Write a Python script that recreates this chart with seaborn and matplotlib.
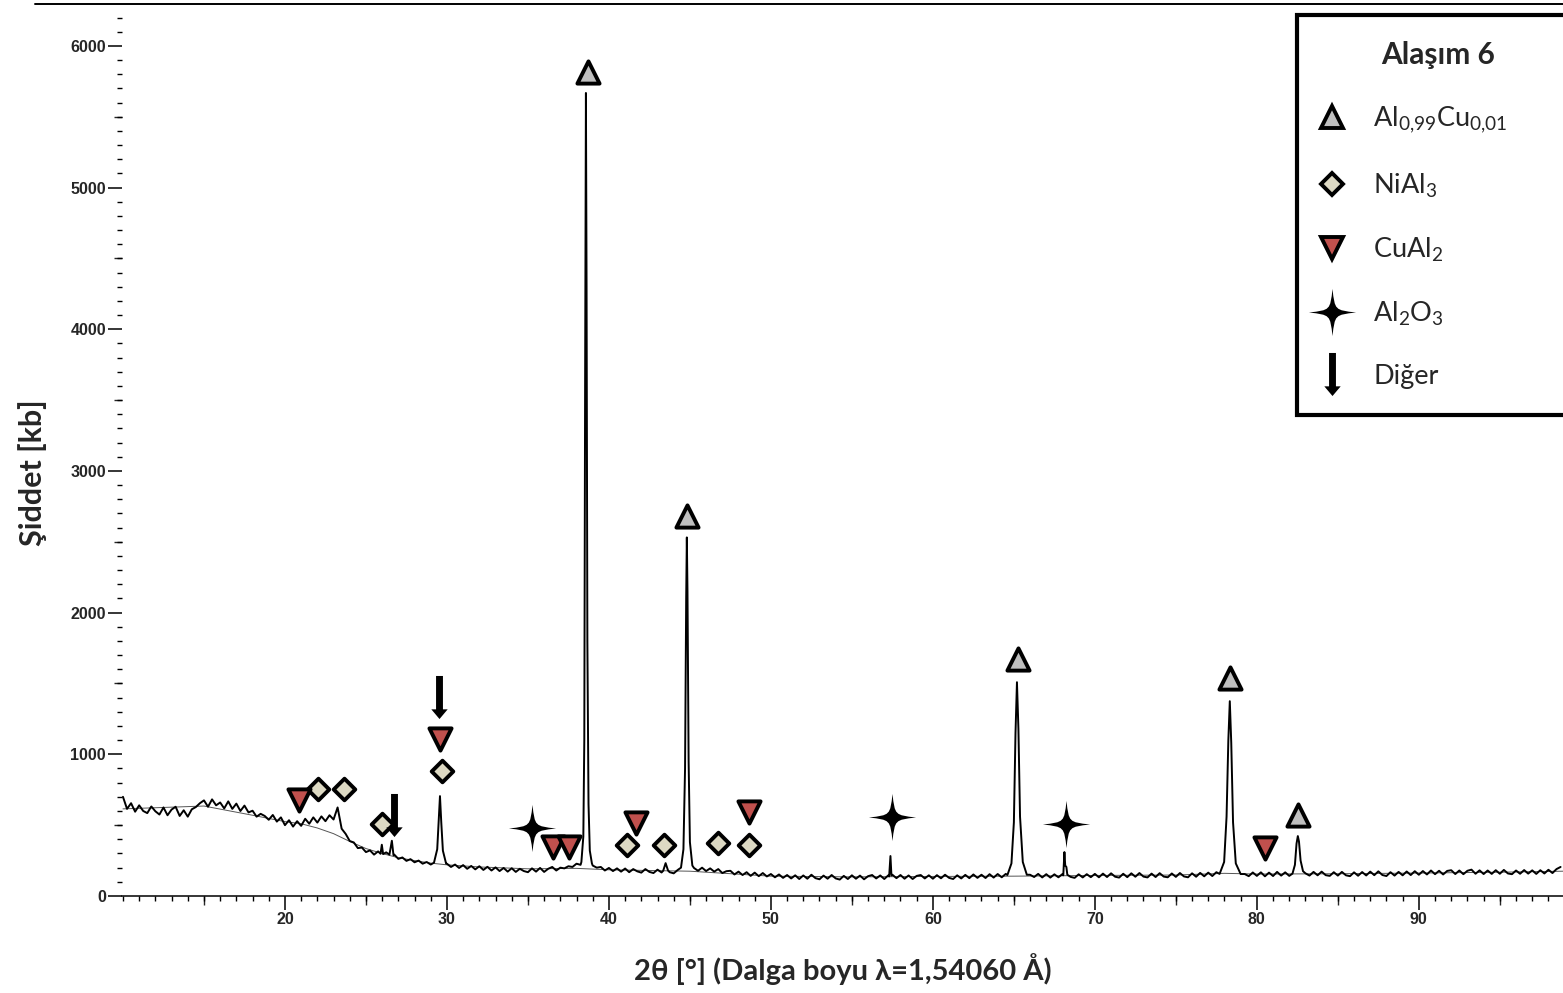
import numpy as np
import seaborn as sns
import matplotlib.pyplot as plt
from matplotlib.path import Path
from matplotlib.lines import Line2D
from matplotlib.ticker import MultipleLocator

# ---------------- data ----------------
# background trace, 0.25 deg steps from 10.00 to 98.75
bg_10 = [700, 615, 655, 595, 640, 600, 585, 632, 598, 575,
         625, 570, 610, 630, 565, 605, 560, 612, 628, 655,
         675, 630, 682, 640, 660, 618, 668, 615, 652, 600,
         638, 590, 602, 560, 580, 565, 538, 572, 525, 555]
bg_20 = [500, 535, 490, 528, 495, 545, 510, 555, 518, 562,
         528, 570, 540, 625, 475, 438, 388, 378, 338, 342,
         310, 322, 292, 315, 288, 308, 282, 292, 262, 272,
         248, 260, 238, 250, 228, 240, 222, 245, 250, 225]
bg_30 = [228, 205, 222, 198, 218, 192, 212, 188, 210, 184,
         206, 180, 202, 176, 198, 172, 196, 170, 192, 176,
         168, 195, 172, 198, 170, 192, 205, 180, 200, 195,
         210, 205, 228, 220, 300, 400, 215, 200, 205, 180]
bg_40 = [198, 176, 195, 172, 194, 168, 190, 174, 165, 190,
         170, 162, 186, 166, 200, 168, 160, 184, 190, 200,
         190, 198, 178, 200, 176, 195, 172, 190, 162, 175,
         178, 152, 172, 148, 168, 142, 165, 140, 162, 138]
bg_50 = [155, 132, 152, 128, 148, 124, 146, 120, 145, 122,
         150, 126, 118, 144, 122, 148, 124, 116, 142, 120,
         146, 122, 144, 118, 140, 148, 124, 145, 120, 146,
         150, 126, 148, 122, 145, 120, 142, 148, 124, 146]
bg_60 = [122, 147, 125, 150, 128, 120, 146, 124, 149, 126,
         152, 128, 150, 127, 154, 130, 155, 132, 156, 150,
         150, 150, 150, 150, 150, 134, 156, 131, 154, 130,
         153, 132, 155, 150, 135, 128, 153, 131, 154, 133]
bg_70 = [156, 132, 158, 134, 160, 136, 130, 157, 133, 160,
         136, 162, 137, 131, 158, 134, 161, 137, 132, 159,
         135, 162, 138, 132, 160, 136, 163, 139, 165, 141,
         168, 155, 155, 155, 155, 155, 155, 155, 140, 166]
bg_80 = [142, 167, 139, 165, 141, 170, 144, 167, 142, 155,
         155, 155, 155, 144, 170, 146, 172, 147, 142, 168,
         144, 170, 146, 140, 167, 143, 169, 145, 172, 147,
         174, 148, 141, 168, 144, 170, 146, 173, 148, 175]
bg_90 = [150, 176, 152, 180, 154, 178, 152, 177, 182, 155,
         180, 154, 178, 186, 157, 181, 155, 180, 156, 182,
         157, 184, 159, 154, 180, 157, 183, 158, 181, 156,
         182, 159, 185, 162, 190, 205]

# peaks (two-theta, intensity)
p26a_x = [25.9, 25.98, 26.06]
p26a_y = [298, 362, 296]
p26b_x = [26.45, 26.6, 26.7]
p26b_y = [292, 390, 288]
p29_x = [29.2, 29.4, 29.5, 29.57, 29.65, 29.75, 29.95]
p29_y = [235, 330, 550, 705, 520, 320, 228]
p38_x = [38.3, 38.42, 38.48, 38.53, 38.58, 38.62, 38.67, 38.74, 38.82, 38.95]
p38_y = [240, 420, 1100, 3600, 5668, 4300, 1800, 650, 320, 230]
p43_x = [43.35, 43.5, 43.65]
p43_y = [178, 232, 180]
p44_x = [44.45, 44.6, 44.7, 44.77, 44.81, 44.85, 44.92, 45.0, 45.15]
p44_y = [200, 330, 900, 2100, 2531, 2150, 950, 380, 215]
p57_x = [57.3, 57.38, 57.44]
p57_y = [138, 282, 145]
p65_x = [64.6, 64.85, 65.0, 65.1, 65.19, 65.28, 65.38, 65.55, 65.8]
p65_y = [148, 230, 520, 1150, 1509, 1180, 560, 240, 150]
p68_x = [68.05, 68.12, 68.17, 68.24, 68.3]
p68_y = [146, 310, 215, 205, 150]
p78_x = [77.7, 77.98, 78.13, 78.24, 78.33, 78.42, 78.53, 78.7, 79.0]
p78_y = [156, 240, 560, 1100, 1375, 1080, 520, 230, 155]
p82_x = [82.2, 82.35, 82.45, 82.53, 82.6, 82.7, 82.85, 83.0]
p82_y = [158, 220, 370, 423, 385, 250, 175, 160]

# fitted background (thin grey line)
base_x = [10, 15, 18, 20, 21, 22, 23, 24, 25, 26, 27, 28, 29, 30, 32, 35, 38, 40,
          45, 50, 55, 60, 65, 70, 75, 78, 80, 85, 90, 95, 98.9]
base_y = [615, 635, 570, 525, 510, 480, 440, 385, 335, 300, 270, 250, 232, 220,
          205, 192, 195, 185, 175, 140, 135, 138, 140, 145, 148, 160, 155, 157,
          162, 168, 175]

# phase markers
alcu_x = [38.7, 44.81, 65.25, 78.33, 82.56]
alcu_y = [5813, 2682, 1676, 1539, 572]
nial_x = [22.04, 23.64, 25.99, 29.69, 41.11, 43.40, 46.73, 48.64]
nial_y = [755, 755, 508, 882, 360, 360, 374, 360]
cual_x = [20.86, 29.57, 36.54, 37.53, 41.67, 48.64, 80.49]
cual_y = [677, 1108, 346, 346, 515, 593, 339]
alox_x = [35.25, 57.47, 68.21]
alox_y = [480, 558, 508]
other_x = [26.75, 29.52]
other_y = [572, 1408]

labels = [r"Al$_{\mathregular{0{,}99}}$Cu$_{\mathregular{0{,}01}}$",
          r"NiAl$_{\mathregular{3}}$",
          r"CuAl$_{\mathregular{2}}$",
          r"Al$_{\mathregular{2}}$O$_{\mathregular{3}}$",
          "Diğer"]

# ---------------- build trace ----------------
bg_x = np.arange(10, 99, 0.25)
bg_y = np.array(bg_10 + bg_20 + bg_30 + bg_40 + bg_50 + bg_60 + bg_70 + bg_80 + bg_90, dtype=float)

peaks = [(p26a_x, p26a_y), (p26b_x, p26b_y), (p29_x, p29_y), (p38_x, p38_y),
         (p43_x, p43_y), (p44_x, p44_y), (p57_x, p57_y), (p65_x, p65_y),
         (p68_x, p68_y), (p78_x, p78_y), (p82_x, p82_y)]

keep = np.ones(len(bg_x), dtype=bool)
for px, py in peaks:
    keep &= ~((bg_x >= min(px)) & (bg_x <= max(px)))

x_all = np.concatenate([bg_x[keep]] + [np.array(px) for px, py in peaks])
y_all = np.concatenate([bg_y[keep]] + [np.array(py, dtype=float) for px, py in peaks])
order = np.argsort(x_all)
x_all = x_all[order]
y_all = y_all[order]

# ---------------- custom markers ----------------
c = 0.1
star_path = Path(
    [(0, 1), (c, c), (c, c), (1, 0), (c, -c), (c, -c), (0, -1),
     (-c, -c), (-c, -c), (-1, 0), (-c, c), (-c, c), (0, 1), (0, 1)],
    [Path.MOVETO] + [Path.CURVE4] * 12 + [Path.CLOSEPOLY])

arrow_path = Path(
    [(-0.16, 1), (0.16, 1), (0.16, -0.55), (0.38, -0.55), (0, -1),
     (-0.38, -0.55), (-0.16, -0.55), (-0.16, 1)],
    [Path.MOVETO] + [Path.LINETO] * 6 + [Path.CLOSEPOLY])

GREY = '#bfbfbf'
BEIGE = '#ddd9c3'
RED = '#c0504d'

# ---------------- plot ----------------
sns.set_style("white")
plt.rcParams['font.family'] = ['Lato', 'DejaVu Sans']
plt.rcParams['mathtext.fontset'] = 'custom'
plt.rcParams['mathtext.rm'] = 'Lato'

fig = plt.figure(figsize=(15.63, 9.93), dpi=100)
ax = fig.add_axes([122 / 1563, 97 / 993, 1 - 122 / 1563, 892 / 993])

sns.lineplot(x=base_x, y=base_y, ax=ax, color='#555555', linewidth=0.7,
             estimator=None, sort=False, zorder=1)
sns.lineplot(x=x_all, y=y_all, ax=ax, color='black', linewidth=1.4,
             estimator=None, sort=False, zorder=2)

tri_ms = 16
sns.scatterplot(x=alcu_x, y=alcu_y, ax=ax, marker='^', s=tri_ms ** 2, color=GREY,
                edgecolor='black', linewidth=2.8, zorder=5)
sns.scatterplot(x=nial_x, y=nial_y, ax=ax, marker='D', s=11 ** 2, color=BEIGE,
                edgecolor='black', linewidth=2.8, zorder=5)
sns.scatterplot(x=cual_x, y=cual_y, ax=ax, marker='v', s=tri_ms ** 2, color=RED,
                edgecolor='black', linewidth=2.8, zorder=5)
sns.scatterplot(x=alox_x, y=alox_y, ax=ax, marker=star_path, s=34 ** 2, color='black',
                edgecolor='black', linewidth=0, zorder=5)
sns.scatterplot(x=other_x, y=other_y, ax=ax, marker=arrow_path,
                s=31 ** 2, color='black', edgecolor='black', linewidth=0, zorder=5)

ax.set_xlim(9.94, 98.9)
ax.set_ylim(0, 6296)

for s in ['top', 'right', 'left']:
    ax.spines[s].set_visible(False)
ax.spines['bottom'].set_linewidth(1.1)
ax.spines['bottom'].set_color('black')

ax.xaxis.set_minor_locator(MultipleLocator(1))
ax.yaxis.set_major_locator(MultipleLocator(1000))
ax.yaxis.set_minor_locator(MultipleLocator(100))
ax.set_xticks([20, 30, 40, 50, 60, 70, 80, 90])

ax.tick_params(axis='both', which='major', direction='out', length=10, width=1.1,
               color='black', labelsize=11.5, pad=1.5)
ax.tick_params(axis='both', which='minor', direction='out', length=3.6, width=1.0,
               color='black')
ax.tick_params(axis='x', which='both', bottom=True)
ax.tick_params(axis='y', which='both', left=True)
for lab in ax.get_xticklabels() + ax.get_yticklabels():
    lab.set_family('Liberation Sans')
    lab.set_weight('bold')

# medium ticks at the fives
secx = ax.secondary_xaxis('bottom')
secx.set_xticks(np.arange(15, 99, 10))
secx.tick_params(length=6.5, width=1.0, labelbottom=False)
secx.spines['bottom'].set_visible(False)
secy = ax.secondary_yaxis('left')
secy.set_yticks(np.arange(500, 6300, 1000))
secy.tick_params(length=5.8, width=1.0, labelleft=False)
secy.spines['left'].set_visible(False)

ax.set_xlabel("2θ [°] (Dalga boyu λ=1,54060 Å)", fontsize=21, fontweight='bold')
ax.xaxis.set_label_coords(0.5, -0.064)
ax.set_ylabel("Şiddet [kb]", fontsize=22, fontweight='bold')
ax.yaxis.set_label_coords(-0.052, 0.475)

# top frame line
fig.add_artist(Line2D([35 / 1563, 1], [1 - 4 / 993, 1 - 4 / 993],
                      transform=fig.transFigure, color='black', linewidth=1.4))

handles = [
    Line2D([], [], ls='none', marker='^', ms=tri_ms, mfc=GREY, mec='black', mew=2.8),
    Line2D([], [], ls='none', marker='D', ms=11, mfc=BEIGE, mec='black', mew=2.8),
    Line2D([], [], ls='none', marker='v', ms=tri_ms, mfc=RED, mec='black', mew=2.8),
    Line2D([], [], ls='none', marker=star_path, ms=34, mfc='black', mec='black', mew=0),
    Line2D([], [], ls='none', marker=arrow_path, ms=31, mfc='black', mec='black', mew=0),
]
leg = ax.legend(handles, labels, title="Alaşım 6", loc='upper left',
                bbox_to_anchor=(1297 / 1563, 1 - 15 / 993, 0.18, 0),
                bbox_transform=fig.transFigure, mode='expand', borderaxespad=0,
                frameon=True, fancybox=False, framealpha=1, edgecolor='black',
                borderpad=0.95, labelspacing=1.32, handlelength=0.7,
                handletextpad=1.16, prop={'size': 19.5},
                title_fontproperties={'size': 21.5, 'weight': 'bold'})
leg.get_frame().set_linewidth(3)

fig.savefig("out.png", dpi=100)
